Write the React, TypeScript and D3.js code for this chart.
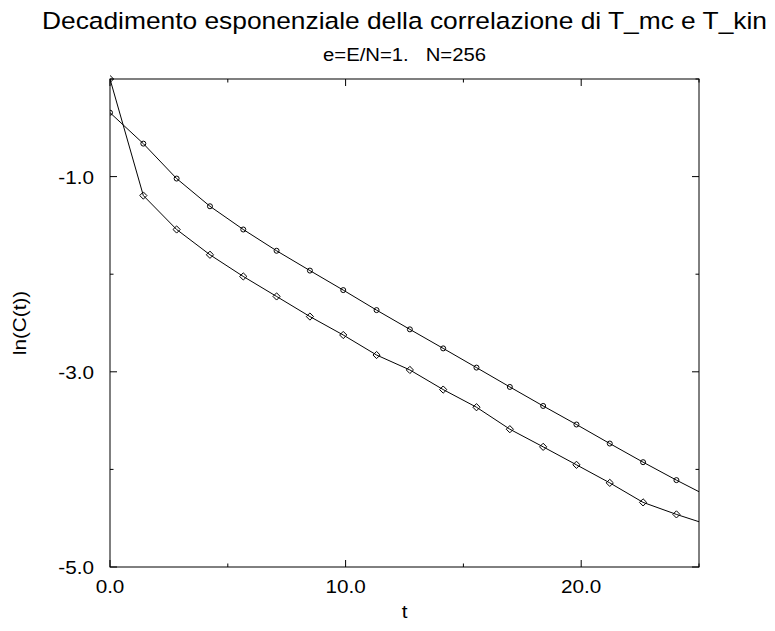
import React from "react";
import * as d3 from "d3";

// Sample times (MC steps) and ln of the two correlation functions
const tValues = [0, 1.414, 2.828, 4.243, 5.657, 7.071, 8.485, 9.9, 11.314, 12.728, 14.142, 15.556, 16.971, 18.385, 19.799, 21.213, 22.627, 24.042, 25.456];
const lnCmc = [-0.345, -0.662, -1.02, -1.304, -1.542, -1.76, -1.963, -2.163, -2.368, -2.565, -2.76, -2.957, -3.155, -3.35, -3.54, -3.735, -3.926, -4.11, -4.285];
const lnCkin = [0.0, -1.194, -1.542, -1.801, -2.023, -2.228, -2.434, -2.623, -2.828, -2.981, -3.182, -3.363, -3.588, -3.769, -3.953, -4.138, -4.338, -4.461, -4.572];

const xMajorTicks = [0, 10, 20];
const xMinorTicks = [5, 15, 25];
const yMajorTicks = [-5, -3, -1];
const yMinorTicks = [-4, -2, 0];
const xTickLabels = ["0.0", "10.0", "20.0"];
const yTickLabels = ["-5.0", "-3.0", "-1.0"];

const title = "Decadimento esponenziale della correlazione di T_mc e T_kin";
const subtitle = "e=E/N=1.   N=256";
const xLabel = "t";
const yLabel = "ln(C(t))";

const W = 775;
const H = 631;
const plot = { left: 110, right: 699, top: 79, bottom: 567 };
const FONT = "'Liberation Sans', Arial, Helvetica, sans-serif";
const SX = 1.15; // horizontal glyph stretch

export default function App() {
  const x = d3.scaleLinear().domain([0, 25]).range([plot.left, plot.right]);
  const y = d3.scaleLinear().domain([-5, 0]).range([plot.bottom, plot.top]);

  const ptsMc = tValues.map((t, i) => [t, lnCmc[i]] as [number, number]);
  const ptsKin = tValues.map((t, i) => [t, lnCkin[i]] as [number, number]);
  const line = d3
    .line<[number, number]>()
    .x((d) => x(d[0]))
    .y((d) => y(d[1]));

  const inside = (d: [number, number]) => d[0] <= 25;
  const majorLen = 7;
  const minorLen = 3.5;

  const tick = (key: string, x1: number, y1: number, x2: number, y2: number) => (
    <line key={key} x1={x1} y1={y1} x2={x2} y2={y2} stroke="#000" strokeWidth={1} />
  );

  const ticks: React.ReactNode[] = [];
  xMajorTicks.forEach((v) => {
    const px = x(v);
    ticks.push(tick(`xb${v}`, px, plot.bottom, px, plot.bottom - majorLen));
    ticks.push(tick(`xt${v}`, px, plot.top, px, plot.top + majorLen));
  });
  xMinorTicks.forEach((v) => {
    const px = x(v);
    ticks.push(tick(`xbm${v}`, px, plot.bottom, px, plot.bottom - minorLen));
    ticks.push(tick(`xtm${v}`, px, plot.top, px, plot.top + minorLen));
  });
  yMajorTicks.forEach((v) => {
    const py = y(v);
    ticks.push(tick(`yl${v}`, plot.left, py, plot.left + majorLen, py));
    ticks.push(tick(`yr${v}`, plot.right, py, plot.right - majorLen, py));
  });
  yMinorTicks.forEach((v) => {
    const py = y(v);
    ticks.push(tick(`ylm${v}`, plot.left, py, plot.left + minorLen, py));
    ticks.push(tick(`yrm${v}`, plot.right, py, plot.right - minorLen, py));
  });

  const cx = (plot.left + plot.right) / 2;
  const cy = (plot.top + plot.bottom) / 2;

  return (
    <svg
      width={W}
      height={H}
      viewBox={`0 0 ${W} ${H}`}
      style={{ position: "absolute", left: 0, top: 0, background: "#fff" }}
      fontFamily={FONT}
    >
      <rect x={0} y={0} width={W} height={H} fill="#fff" />
      <defs>
        <clipPath id="plotClip">
          <rect x={plot.left} y={plot.top - 6} width={plot.right - plot.left} height={plot.bottom - plot.top + 12} />
        </clipPath>
      </defs>

      {/* titles */}
      <text x={cx} y={29} textAnchor="middle" fontSize={24.5} textLength={725} lengthAdjust="spacingAndGlyphs">
        {title}
      </text>
      <text
        x={cx}
        y={61}
        textAnchor="middle"
        fontSize={18}
        textLength={163}
        lengthAdjust="spacingAndGlyphs"
        style={{ whiteSpace: "pre" }}
      >
        {subtitle}
      </text>

      {/* frame and ticks */}
      <rect
        x={plot.left}
        y={plot.top}
        width={plot.right - plot.left}
        height={plot.bottom - plot.top}
        fill="none"
        stroke="#000"
        strokeWidth={1}
      />
      {ticks}

      {/* tick labels */}
      {xMajorTicks.map((v, i) => (
        <text key={`xl${v}`} transform={`translate(${x(v)},${593}) scale(${SX},1)`} textAnchor="middle" fontSize={18}>
          {xTickLabels[i]}
        </text>
      ))}
      {yMajorTicks.map((v, i) => (
        <text key={`yl${v}`} transform={`translate(${94},${y(v) + 7}) scale(${SX},1)`} textAnchor="end" fontSize={18}>
          {yTickLabels[i]}
        </text>
      ))}

      {/* axis labels */}
      <text transform={`translate(${cx},${618}) scale(${SX},1)`} textAnchor="middle" fontSize={18}>
        {xLabel}
      </text>
      <text transform={`translate(${26},${cy}) rotate(-90) scale(${SX},1)`} textAnchor="middle" fontSize={18}>
        {yLabel}
      </text>

      {/* series */}
      <g clipPath="url(#plotClip)">
        <path d={line(ptsMc) ?? ""} fill="none" stroke="#000" strokeWidth={1} />
        <path d={line(ptsKin) ?? ""} fill="none" stroke="#000" strokeWidth={1} />
        {ptsMc.filter(inside).map((d, i) => (
          <circle key={`c${i}`} cx={x(d[0])} cy={y(d[1])} r={2.5} fill="none" stroke="#000" strokeWidth={1} />
        ))}
        {ptsKin.filter(inside).map((d, i) => (
          <path
            key={`d${i}`}
            transform={`translate(${x(d[0])},${y(d[1])})`}
            d="M0,-3.6L3.6,0L0,3.6L-3.6,0Z"
            fill="none"
            stroke="#000"
            strokeWidth={1}
          />
        ))}
      </g>
    </svg>
  );
}
